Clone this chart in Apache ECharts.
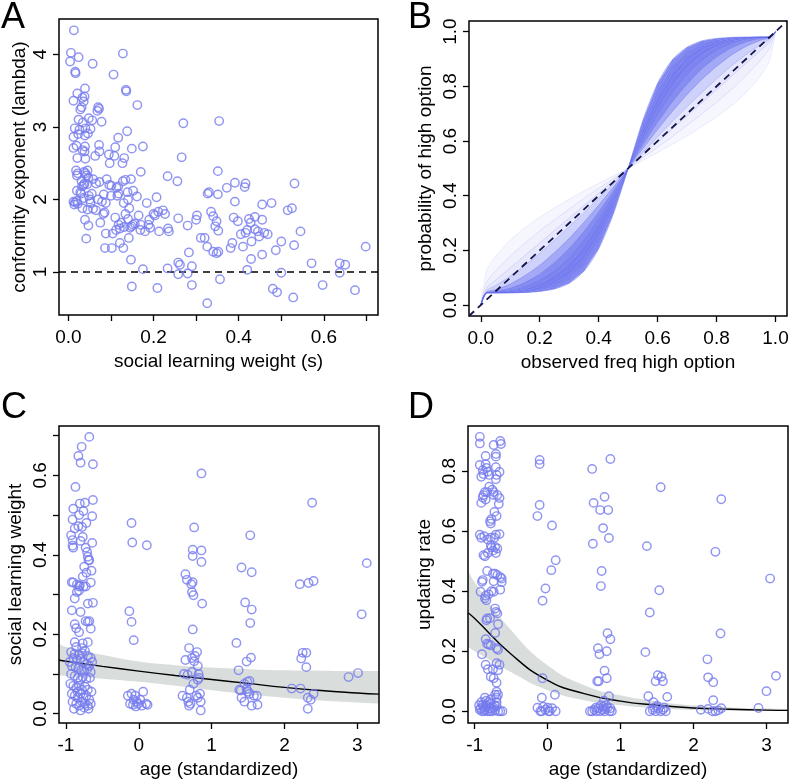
<!DOCTYPE html>
<html>
<head>
<meta charset="utf-8">
<script src="https://cdn.jsdelivr.net/npm/echarts@6/dist/echarts.min.js"></script>
<style>
  html, body { margin: 0; padding: 0; background: #fff; }
  #chart { width: 796px; height: 783px; }
</style>
</head>
<body>
<div id="chart"></div>
<script>
var FONT = 'Liberation Sans, Arial, Helvetica, sans-serif';
var PT = '#747aee';

// ---- panel A: social learning weight (s) vs conformity exponent (lambda)
var conformityPoints = [
  [0.013,4.33],[0.006,4.02],[0.004,3.90],[0.024,3.96],[0.016,3.76],[0.017,3.74],[0.057,3.87],[0.128,4.01],[0.106,3.72],[0.135,3.51],[0.136,3.49],[0.162,3.30],
  [0.039,3.53],[0.021,3.46],[0.012,3.36],[0.033,3.40],[0.038,3.42],[0.036,3.35],[0.070,3.27],[0.072,3.25],[0.068,3.22],[0.028,3.24],[0.031,3.27],[0.024,3.10],[0.048,3.12],[0.056,3.09],[0.034,3.06],[0.078,3.07],[0.270,3.05],[0.354,3.08],
  [0.015,2.98],[0.026,2.96],[0.040,2.98],[0.052,2.97],[0.046,2.91],[0.012,2.86],[0.023,2.90],[0.039,2.88],[0.117,2.85],[0.138,2.94],
  [0.012,2.71],[0.019,2.74],[0.039,2.73],[0.033,2.68],[0.038,2.66],[0.072,2.75],[0.110,2.72],[0.149,2.70],[0.175,2.73],
  [0.021,2.57],[0.040,2.56],[0.063,2.60],[0.073,2.66],[0.095,2.62],[0.108,2.60],[0.131,2.57],[0.127,2.50],[0.097,2.50],[0.266,2.58],
  [0.018,2.40],[0.020,2.33],[0.022,2.36],[0.037,2.38],[0.040,2.36],[0.043,2.33],[0.045,2.40],[0.047,2.30],
  [0.031,2.25],[0.038,2.22],[0.036,2.20],[0.032,2.18],[0.044,2.21],[0.058,2.28],[0.065,2.22],[0.073,2.24],[0.090,2.28],[0.096,2.20],[0.101,2.19],[0.113,2.16],[0.117,2.18],[0.128,2.25],[0.134,2.27],[0.147,2.28],[0.170,2.38],
  [0.233,2.32],[0.256,2.25],[0.351,2.39],[0.327,2.08],[0.351,2.07],[0.372,2.16],[0.391,2.23],[0.416,2.22],[0.414,2.17],[0.531,2.22],[0.207,2.03],
  [0.028,2.10],[0.030,2.08],[0.020,2.12],[0.055,2.08],[0.048,2.05],[0.036,2.02],[0.083,2.07],[0.100,2.05],[0.118,2.08],[0.139,2.10],[0.152,2.12],[0.161,2.04],
  [0.012,1.97],[0.016,1.96],[0.020,1.98],[0.014,1.93],[0.022,1.94],[0.050,2.00],[0.052,1.95],[0.070,2.00],[0.079,1.97],[0.088,1.95],[0.115,2.05],[0.130,1.95],[0.140,2.00],[0.184,1.95],
  [0.033,1.88],[0.045,1.86],[0.058,1.87],[0.065,1.85],[0.039,1.72],[0.047,1.64],[0.042,1.46],
  [0.086,1.33],[0.102,1.33],[0.088,1.53],[0.104,1.53],[0.082,1.80],[0.085,1.82],[0.075,1.68],
  [0.110,1.75],[0.118,1.65],[0.124,1.68],[0.131,1.62],[0.121,1.60],[0.129,1.33],[0.121,1.40],[0.112,1.58],
  [0.134,1.80],[0.143,1.88],[0.140,1.73],[0.152,1.65],[0.156,1.67],[0.148,1.63],[0.145,1.61],[0.142,1.47],[0.147,1.17],[0.149,0.80],[0.175,1.04],
  [0.170,1.65],[0.169,1.58],[0.165,1.78],[0.188,1.65],[0.190,1.72],[0.200,1.80],[0.203,1.78],[0.211,1.83],[0.222,1.85],[0.227,1.80],[0.213,1.56],[0.236,1.56],[0.234,1.60],[0.180,1.56],[0.192,1.61],
  [0.209,0.78],[0.233,1.05],[0.258,1.13],[0.262,1.10],[0.258,0.97],[0.280,0.98],[0.283,1.27],[0.290,1.08],[0.290,0.82],
  [0.258,1.74],[0.280,1.64],[0.302,1.78],[0.300,1.72],[0.311,1.47],[0.320,1.47],[0.326,1.35],[0.326,0.57],[0.330,2.10],
  [0.335,1.83],[0.340,1.77],[0.345,1.63],[0.348,1.70],[0.352,1.57],[0.340,1.28],[0.348,1.26],[0.352,1.28],[0.356,0.90],
  [0.385,1.40],[0.381,1.33],[0.388,1.75],[0.398,1.70],[0.391,1.97],[0.405,1.52],[0.410,1.35],[0.420,1.03],
  [0.416,1.54],[0.420,1.58],[0.424,1.73],[0.428,1.68],[0.438,1.76],[0.430,1.42],[0.438,1.59],[0.429,1.18],
  [0.445,1.56],[0.455,1.72],[0.460,1.54],[0.468,1.52],[0.448,1.49],[0.455,1.24],
  [0.477,1.95],[0.455,1.93],[0.480,0.77],[0.490,0.72],[0.487,1.30],[0.500,1.42],[0.500,0.99],[0.515,1.85],[0.525,1.88],[0.530,1.37],[0.528,0.65],[0.545,1.56],
  [0.571,1.12],[0.597,0.82],[0.637,1.12],[0.650,1.10],[0.637,0.99],[0.673,0.75],[0.698,1.35]
];

// ---- panel B: curves, y at each observed frequency
var freqGrid = [0,0.02,0.05,0.1,0.15,0.2,0.25,0.3,0.35,0.4,0.45,0.5,0.55,0.6,0.65,0.7,0.75,0.8,0.85,0.9,0.95,0.98,1];
var curveL06 = [0,.125,.178,.237,.283,.321,.355,.387,.417,.445,.473,.5,.529,.558,.588,.619,.653,.689,.729,.777,.840,.895,1];
var curveL08 = [0,.084,.124,.179,.227,.271,.312,.351,.390,.427,.463,.5,.539,.577,.616,.657,.699,.742,.788,.839,.897,.939,1];
var curveL10 = [0,.063,.091,.136,.182,.227,.273,.318,.364,.409,.455,.5,.548,.596,.644,.692,.740,.788,.836,.884,.932,.961,1];
var curveL12 = [0,.053,.071,.106,.146,.190,.237,.287,.338,.391,.445,.5,.558,.615,.671,.725,.777,.827,.874,.916,.953,.971,1];
var curveL15 = [0,.048,.056,.077,.108,.146,.192,.244,.303,.366,.432,.5,.572,.642,.708,.770,.825,.873,.914,.946,.969,.977,1];
var curveL18 = [0,.046,.050,.062,.083,.114,.156,.208,.270,.341,.419,.5,.586,.668,.743,.808,.863,.907,.940,.962,.975,.979,1];
var curveL21 = [0,.045,.047,.054,.068,.092,.127,.176,.240,.317,.406,.5,.600,.693,.774,.841,.893,.930,.956,.971,.978,.980,1];
var curveL24 = [0,.045,.046,.050,.059,.077,.106,.150,.213,.295,.392,.5,.613,.717,.803,.869,.916,.947,.965,.975,.979,.980,1];
var curveL27 = [0,.045,.045,.047,.053,.066,.090,.129,.189,.273,.380,.5,.627,.739,.828,.892,.933,.958,.971,.977,.980,.980,1];
var curveL30 = [0,.045,.045,.046,.050,.059,.077,.111,.168,.253,.367,.5,.640,.761,.850,.910,.946,.965,.975,.978,.980,.980,1];
var curveL34 = [0,.045,.045,.045,.047,.053,.066,.093,.144,.228,.350,.5,.658,.787,.876,.929,.958,.971,.977,.979,.980,.980,1];
var curveL38 = [0,.045,.045,.045,.046,.050,.059,.080,.124,.206,.334,.5,.675,.811,.897,.943,.966,.975,.979,.980,.980,.980,1];
var curves = [curveL38, curveL34, curveL30, curveL27, curveL24, curveL21, curveL18, curveL15, curveL12, curveL10, curveL08, curveL06];
var bandAlpha = [0.8, 0.86, 0.9, 0.9, 0.86, 0.8, 0.6, 0.32, 0.17, 0.1, 0.06];
var lineAlpha = [0.55, 0.5, 0.5, 0.5, 0.5, 0.5, 0.45, 0.4, 0.25, 0.2, 0.16, 0.13];

// ---- panel C: age vs social learning weight
var socialPoints = [
  [-0.68,0.697],[-0.785,0.672],[-0.83,0.649],[-0.80,0.632],[-0.63,0.628],[-0.87,0.571],[0.86,0.605],
  [-0.90,0.516],[-0.81,0.529],[-0.74,0.531],[-0.63,0.538],[-0.76,0.51],[-0.82,0.50],[-0.64,0.497],
  [-0.91,0.489],[-0.72,0.48],[-0.83,0.472],[-0.88,0.466],[-0.78,0.47],[-0.93,0.449],[-0.91,0.437],[-0.77,0.445],[-0.80,0.435],[-0.90,0.418],[-0.91,0.423],[-0.73,0.418],[-0.71,0.407],[-0.70,0.395],[-0.68,0.386],[-0.69,0.387],[-0.64,0.43],
  [-0.10,0.48],[-0.09,0.431],[0.11,0.424],[0.76,0.469],[0.74,0.413],[0.86,0.411],[0.74,0.397],[0.86,0.382],[1.53,0.449],[1.41,0.368],[1.55,0.356],[2.38,0.531],[3.13,0.379],[2.21,0.326],[2.33,0.329],[2.40,0.334],[0.64,0.351],[0.66,0.337],[0.72,0.326],
  [-0.90,0.33],[-0.85,0.325],[-0.82,0.32],[-0.77,0.345],[-0.72,0.355],[-0.75,0.37],[-0.66,0.33],[-0.65,0.36],[-0.76,0.32],
  [-0.92,0.331],[-0.81,0.323],[-0.85,0.306],[-0.88,0.29],[-0.82,0.31],[-0.73,0.32],
  [-0.92,0.26],[-0.80,0.256],[-0.70,0.277],[-0.63,0.279],
  [-0.73,0.233],[-0.70,0.231],[-0.68,0.233],[-0.66,0.214],
  [-0.88,0.225],[-0.86,0.215],[-0.82,0.205],[-0.88,0.18],[-0.77,0.177],[-0.70,0.18],[-0.78,0.165],[-0.86,0.168],
  [-0.93,0.155],[-0.88,0.15],[-0.82,0.148],[-0.78,0.152],[-0.74,0.158],[-0.70,0.145],[-0.66,0.14],[-0.64,0.13],[-0.90,0.14],[-0.85,0.135],[-0.80,0.138],[-0.76,0.13],[-0.72,0.125],[-0.68,0.12],
  [-0.95,0.13],[-0.92,0.12],[-0.87,0.118],[-0.83,0.115],[-0.79,0.11],[-0.75,0.108],[-0.71,0.112],[-0.66,0.105],[-0.93,0.1],[-0.88,0.095],[-0.84,0.09],[-0.80,0.085],[-0.77,0.092],[-0.72,0.088],[-0.67,0.09],
  [-0.94,0.075],[-0.90,0.07],[-0.86,0.065],[-0.82,0.07],[-0.78,0.06],[-0.74,0.068],[-0.70,0.06],[-0.65,0.055],[-0.92,0.05],[-0.88,0.045],[-0.84,0.04],[-0.80,0.05],[-0.76,0.04],[-0.72,0.045],[-0.68,0.035],
  [-0.91,0.03],[-0.86,0.025],[-0.82,0.02],[-0.78,0.03],[-0.74,0.025],[-0.70,0.02],[-0.66,0.025],[-0.89,0.012],[-0.80,0.008],[-0.75,0.015],[-0.69,0.012],[-0.84,0.055],
  [-0.13,0.258],[-0.10,0.231],[-0.07,0.185],
  [-0.15,0.045],[-0.10,0.05],[-0.05,0.045],[-0.07,0.035],[-0.03,0.03],[0.02,0.035],[0.06,0.055],[0.10,0.025],[-0.01,0.025],[-0.08,0.022],[-0.12,0.025],[0.04,0.02],[0.12,0.022],[-0.04,0.018],
  [0.73,0.306],[0.75,0.298],[0.74,0.331],[0.87,0.277],[0.74,0.212],
  [0.69,0.165],[0.64,0.135],[0.73,0.14],[0.77,0.145],[0.80,0.155],[0.76,0.132],[0.81,0.12],[0.62,0.1],[0.67,0.098],[0.73,0.105],[0.82,0.1],[0.83,0.09],[0.75,0.075],[0.81,0.085],
  [0.60,0.045],[0.66,0.04],[0.68,0.03],[0.69,0.02],[0.79,0.045],[0.81,0.04],[0.84,0.05],[0.85,0.03],[0.85,0.008],[0.71,0.025],[0.70,0.06],
  [1.46,0.28],[1.55,0.262],[1.53,0.228],[1.34,0.178],[1.54,0.141],[1.48,0.131],[1.37,0.109],[1.49,0.08],[1.45,0.075],[1.52,0.082],[1.38,0.06],[1.48,0.062],[1.52,0.05],[1.41,0.04],[1.58,0.045],[1.62,0.045],[1.45,0.03],[1.55,0.02],[1.63,0.022],[1.50,0.055],[1.40,0.058],
  [2.25,0.153],[2.30,0.153],[2.23,0.139],[2.30,0.117],[2.10,0.063],[2.22,0.063],[2.32,0.04],[2.36,0.035],[2.40,0.05],[2.32,0.012],
  [2.88,0.092],[3.01,0.102],[3.06,0.25]
];
var ageGrid = [-1.096,-1,-0.5,0,0.5,1,1.5,2,2.5,3,3.298];
var socialFit = [0.135,0.132,0.119,0.107,0.096,0.086,0.076,0.066,0.058,0.052,0.049];
var socialUpper = [0.176,0.168,0.148,0.131,0.122,0.116,0.112,0.109,0.108,0.107,0.107];
var socialLower = [0.096,0.095,0.088,0.080,0.070,0.059,0.049,0.040,0.033,0.028,0.025];

// ---- panel D: age vs updating rate
var updatePoints = [
  [-0.93,0.914],[-0.93,0.892],[-0.65,0.90],[-0.64,0.89],[-0.74,0.887],[-0.71,0.857],[-0.71,0.848],[-0.85,0.85],
  [-0.93,0.82],[-0.85,0.823],[-0.89,0.803],[-0.82,0.798],[-0.91,0.781],[-0.80,0.787],[-0.71,0.813],[-0.66,0.797],[-0.70,0.787],[-0.71,0.773],[-0.88,0.79],[-0.84,0.81],
  [-0.80,0.748],[-0.76,0.738],[-0.83,0.73],[-0.88,0.72],[-0.89,0.712],[-0.91,0.694],[-0.85,0.705],[-0.74,0.73],[-0.69,0.72],[-0.66,0.71],[-0.67,0.69],[-0.74,0.72],[-0.86,0.73],
  [-0.73,0.664],[-0.70,0.65],[-0.78,0.625],[-0.79,0.633],[-0.77,0.64],
  [-0.93,0.588],[-0.91,0.578],[-0.87,0.583],[-0.71,0.588],[-0.66,0.59],[-0.73,0.578],[-0.78,0.578],[-0.82,0.572],
  [-0.78,0.553],[-0.77,0.545],[-0.72,0.547],[-0.69,0.542],[-0.71,0.527],[-0.82,0.527],[-0.86,0.516],[-0.75,0.535],[-0.88,0.52],
  [-0.83,0.467],[-0.75,0.458],[-0.72,0.458],[-0.69,0.453],[-0.65,0.447],[-0.63,0.442],[-0.89,0.437],[-0.74,0.433],
  [-0.11,0.837],[-0.11,0.823],[-0.11,0.687],[-0.14,0.65],[0.06,0.619],[0.11,0.503],[0.05,0.47],
  [0.61,0.807],[0.86,0.84],[0.63,0.694],[0.78,0.714],[0.72,0.67],[0.83,0.67],[0.76,0.61],[0.84,0.577],[0.62,0.558],[0.74,0.467],[1.55,0.746],[1.36,0.55],[2.38,0.706],[2.30,0.531],[3.05,0.442],
  [-0.90,0.431],[-0.65,0.405],[-0.63,0.43],[-0.92,0.398],[-0.85,0.385],[-0.81,0.39],[-0.86,0.376],[-0.84,0.37],[-0.77,0.40],[-0.74,0.398],
  [-0.72,0.342],[-0.71,0.331],[-0.69,0.326],[-0.83,0.309],[-0.79,0.31],[-0.84,0.303],[-0.68,0.29],
  [-0.72,0.261],[-0.85,0.24],[-0.81,0.222],[-0.83,0.225],[-0.78,0.22],[-0.70,0.21],[-0.68,0.205],[-0.90,0.19],
  [-0.85,0.155],[-0.82,0.14],[-0.70,0.16],[-0.66,0.155],[-0.68,0.137],[-0.75,0.14],
  [-0.78,0.115],[-0.74,0.11],[-0.70,0.095],
  [-0.70,0.065],[-0.72,0.055],[-0.70,0.045],[-0.68,0.055],[-0.86,0.045],[-0.78,0.04],[-0.84,0.035],[-0.70,0.03],
  [-0.94,0.02],[-0.92,0.01],[-0.90,0.0],[-0.88,0.015],[-0.86,0.005],[-0.84,0.02],[-0.82,0.0],[-0.80,0.01],[-0.78,0.025],[-0.76,0.0],[-0.74,0.012],[-0.72,0.003],
  [-0.70,0.018],[-0.68,0.0],[-0.65,0.0],[-0.62,0.0],[-0.93,0.005],[-0.89,0.022],[-0.85,0.012],[-0.81,0.03],[-0.77,0.008],[-0.73,0.02],[-0.91,0.03],[-0.87,0.0],[-0.79,0.0],
  [-0.07,0.368],[-0.03,0.409],[-0.07,0.11],[-0.08,0.045],[0.10,0.055],
  [-0.14,0.012],[-0.10,0.0],[-0.06,0.015],[-0.03,0.005],[0.0,0.012],[0.03,0.0],[0.06,0.01],[0.11,0.0],[-0.08,0.0],[0.01,0.0],
  [0.73,0.417],[0.69,0.21],[0.71,0.19],[0.81,0.20],[0.82,0.26],[0.86,0.24],[0.78,0.135],[0.81,0.11],[0.68,0.10],[0.70,0.10],[0.84,0.05],[0.77,0.035],[0.73,0.02],[0.80,0.02],[0.86,0.01],
  [0.58,0.0],[0.61,0.0],[0.64,0.005],[0.67,0.0],[0.70,0.01],[0.72,0.0],[0.75,0.005],[0.78,0.0],[0.82,0.012],[0.85,0.0],[0.88,0.0],[0.66,0.012],[0.76,0.015],[0.79,0.008],
  [1.53,0.403],[1.40,0.329],[1.34,0.197],[1.51,0.12],[1.56,0.115],[1.58,0.10],[1.48,0.10],[1.38,0.05],[1.45,0.03],[1.64,0.048],
  [1.40,0.0],[1.44,0.005],[1.48,0.0],[1.52,0.01],[1.55,0.0],[1.58,0.005],[1.62,0.0],[1.50,0.018],[1.60,0.012],[1.46,0.012],
  [2.19,0.173],[2.20,0.113],[2.27,0.097],[2.27,0.037],[2.37,0.259],[2.10,0.005],[2.20,0.008],[2.26,0.0],[2.30,0.0],[2.34,0.003],[2.38,0.01],
  [2.89,0.011],[3.0,0.067],[3.13,0.118]
];
var ageGridD = [-1.092,-1,-0.5,0,0.5,1,1.5,2,2.5,3,3.295];
var updateFit = [0.328,0.309,0.190,0.103,0.059,0.034,0.020,0.011,0.007,0.004,0.003];
var updateUpper = [0.470,0.430,0.270,0.153,0.087,0.053,0.033,0.020,0.013,0.009,0.007];
var updateLower = [0.214,0.200,0.130,0.070,0.037,0.020,0.010,0.004,0.002,0.001,0.001];

function zip(xs, ys) { return xs.map(function (x, i) { return [x, ys[i]]; }); }
function range(a, b, step) { var out = []; for (var v = a; v <= b + 1e-9; v += step) out.push(+v.toFixed(4)); return out; }

function axis(o) {
  return {
    type: 'value', gridIndex: o.grid, min: o.min, max: o.max,
    name: o.name, nameLocation: 'middle', nameGap: o.nameGap,
    nameTextStyle: { fontFamily: FONT, fontSize: 19, color: '#000' },
    axisLine: { show: false, onZero: false },
    axisTick: { show: true, inside: false, length: 6, customValues: o.ticks, lineStyle: { color: '#000', width: 1.3 } },
    axisLabel: { show: true, customValues: o.labels, formatter: o.fmt, margin: o.margin, rotate: o.rotate || 0,
                 fontFamily: FONT, fontSize: 19, color: '#000' },
    splitLine: { show: false }
  };
}
var f1 = function (v) { return v.toFixed(1); };
var f0 = function (v) { return String(Math.round(v)); };

function scatter(xi, data) {
  return {
    type: 'scatter', xAxisIndex: xi, yAxisIndex: xi, data: data, symbol: 'circle', symbolSize: 8.4,
    itemStyle: { color: 'rgba(0,0,0,0)', borderColor: PT, borderWidth: 1.45 }, z: 4, silent: true
  };
}
// grey confidence band: grey area down to the axis floor, then a white area masking below the lower bound
function band(xi, xs, lower, upper) {
  return [
    { type: 'line', xAxisIndex: xi, yAxisIndex: xi, data: zip(xs, upper), smooth: true,
      symbol: 'none', lineStyle: { opacity: 0 }, areaStyle: { color: '#d9dedc', opacity: 1, origin: 'start' }, z: 0, silent: true },
    { type: 'line', xAxisIndex: xi, yAxisIndex: xi, data: zip(xs, lower), smooth: true,
      symbol: 'none', lineStyle: { opacity: 0 }, areaStyle: { color: '#fff', opacity: 1, origin: 'start' }, z: 1, silent: true }
  ];
}

var series = [];
// A
series.push(scatter(0, conformityPoints));
series.push({ type: 'line', xAxisIndex: 0, yAxisIndex: 0, data: [[-0.022, 1], [0.727, 1]], symbol: 'none',
  lineStyle: { color: '#000', width: 1.4, type: [7, 5] }, z: 3, silent: true });
// B: density bands between neighbouring curves
series.push({
  type: 'custom', xAxisIndex: 1, yAxisIndex: 1, silent: true, z: 1,
  data: bandAlpha.map(function (a, i) { return [0.5, 0.5, i]; }),
  renderItem: function (params, api) {
    var i = api.value(2);
    var pts = [];
    freqGrid.forEach(function (x, k) { pts.push(api.coord([x, curves[i][k]])); });
    for (var k = freqGrid.length - 1; k >= 0; k--) pts.push(api.coord([freqGrid[k], curves[i + 1][k]]));
    return { type: 'polygon', shape: { points: pts }, style: { fill: 'rgba(104,112,238,' + bandAlpha[i] + ')' } };
  }
});
curves.forEach(function (c, i) {
  series.push({ type: 'line', xAxisIndex: 1, yAxisIndex: 1, data: zip(freqGrid, c), smooth: 0.3, symbol: 'none',
    lineStyle: { color: 'rgba(100,108,238,' + lineAlpha[i] + ')', width: 1 }, z: 2, silent: true });
});
series.push({ type: 'line', xAxisIndex: 1, yAxisIndex: 1, data: [[-0.04, -0.04], [1.039, 1.039]], symbol: 'none',
  lineStyle: { color: '#15154a', width: 1.8, type: [7, 5] }, z: 5, silent: true });
// C
series = series.concat(band(2, ageGrid, socialLower, socialUpper));
series.push({ type: 'line', xAxisIndex: 2, yAxisIndex: 2, data: zip(ageGrid, socialFit), smooth: true, symbol: 'none',
  lineStyle: { color: '#000', width: 1.4 }, z: 3, silent: true });
series.push(scatter(2, socialPoints));
// D
series = series.concat(band(3, ageGridD, updateLower, updateUpper));
series.push({ type: 'line', xAxisIndex: 3, yAxisIndex: 3, data: zip(ageGridD, updateFit), smooth: true, symbol: 'none',
  lineStyle: { color: '#000', width: 1.4 }, z: 3, silent: true });
series.push(scatter(3, updatePoints));

var gridStyle = { show: true, borderColor: '#000', borderWidth: 1.5, backgroundColor: 'rgba(0,0,0,0)', z: 2 };
function grid(l, t, w, h) { return Object.assign({ left: l, top: t, width: w, height: h }, gridStyle); }

var option = {
  animation: false,
  backgroundColor: '#fff',
  title: [
    { text: 'A', left: 1, top: 0 }, { text: 'B', left: 408, top: 0 },
    { text: 'C', left: 1, top: 390 }, { text: 'D', left: 408, top: 390 }
  ].map(function (t) {
    t.textStyle = { fontFamily: FONT, fontSize: 36, fontWeight: 'normal', color: '#000' };
    t.padding = 0;
    return t;
  }),
  grid: [grid(59, 19, 319, 296), grid(469, 21, 318, 295), grid(59, 426, 320, 297), grid(468, 426, 320, 297)],
  xAxis: [
    axis({ grid: 0, min: -0.022, max: 0.727, ticks: range(0, 0.7, 0.1), labels: [0, 0.2, 0.4, 0.6], fmt: f1,
           name: 'social learning weight (s)', nameGap: 37, margin: 13 }),
    axis({ grid: 1, min: -0.04, max: 1.039, ticks: range(0, 1, 0.2), labels: range(0, 1, 0.2), fmt: f1,
           name: 'observed freq high option', nameGap: 37, margin: 13 }),
    axis({ grid: 2, min: -1.096, max: 3.298, ticks: [-1, 0, 1, 2, 3], labels: [-1, 0, 1, 2, 3], fmt: f0,
           name: 'age (standardized)', nameGap: 37, margin: 13 }),
    axis({ grid: 3, min: -1.092, max: 3.295, ticks: [-1, 0, 1, 2, 3], labels: [-1, 0, 1, 2, 3], fmt: f0,
           name: 'age (standardized)', nameGap: 37, margin: 13 })
  ],
  yAxis: [
    axis({ grid: 0, min: 0.408, max: 4.486, ticks: [1, 2, 3, 4], labels: [1, 2, 3, 4], fmt: f0, rotate: 90,
           name: 'conformity exponent (lambda)', nameGap: 30, margin: 9 }),
    axis({ grid: 1, min: -0.04, max: 1.039, ticks: range(0, 1, 0.2), labels: range(0, 1, 0.2), fmt: f1, rotate: 90,
           name: 'probability of high option', nameGap: 34, margin: 9 }),
    axis({ grid: 2, min: -0.0237, max: 0.7244, ticks: range(0, 0.7, 0.1), labels: [0, 0.2, 0.4, 0.6], fmt: f1, rotate: 90,
           name: 'social learning weight', nameGap: 34, margin: 9 }),
    axis({ grid: 3, min: -0.039, max: 0.95, ticks: range(0, 0.8, 0.2), labels: range(0, 0.8, 0.2), fmt: f1, rotate: 90,
           name: 'updating rate', nameGap: 34, margin: 9 })
  ],
  series: series
};

var chart = echarts.init(document.getElementById('chart'));
chart.setOption(option);
</script>
</body>
</html>
